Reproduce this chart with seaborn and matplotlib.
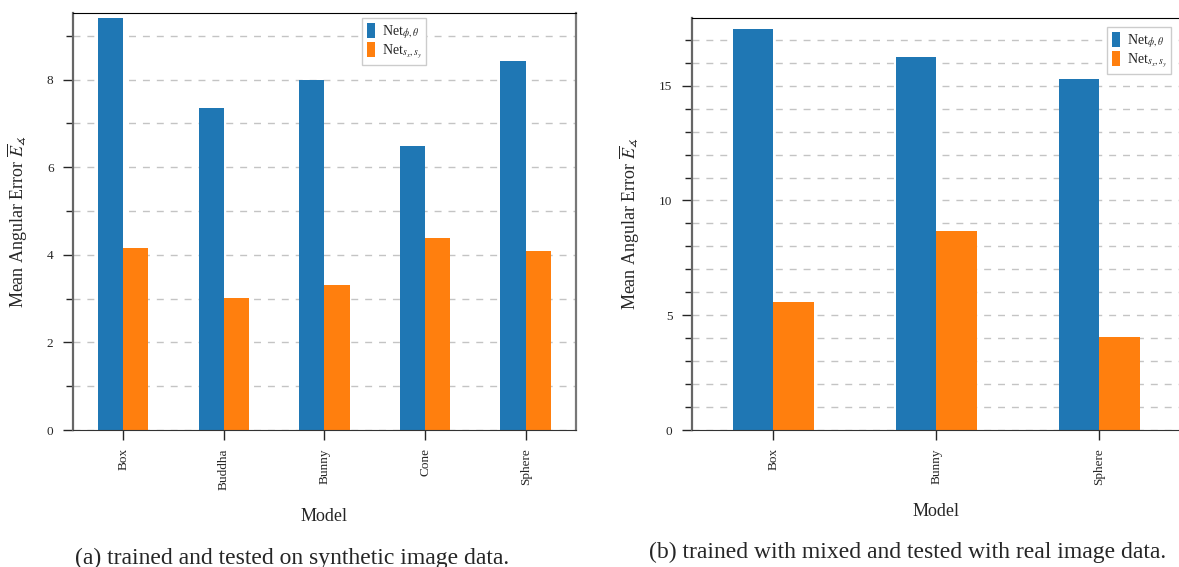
import pandas as pd
import seaborn as sns
import matplotlib.pyplot as plt
from matplotlib.ticker import MultipleLocator

# (a) synthetic image data
models_a = ["Box", "Buddha", "Bunny", "Cone", "Sphere"]
net_phi_a = [9.41, 7.35, 7.99, 6.48, 8.42]
net_s_a = [4.15, 3.01, 3.31, 4.38, 4.09]

# (b) mixed training, real test data
models_b = ["Box", "Bunny", "Sphere"]
net_phi_b = [17.47, 16.24, 15.28]
net_s_b = [5.59, 8.69, 4.06]

series_names = [r"Net$_{\phi,\theta}$", r"Net$_{s_x,s_y}$"]
colors = ["#1f77b4", "#ff7f0e"]

sns.set_style("ticks")
plt.rcParams["font.family"] = ["Liberation Serif", "DejaVu Serif"]
plt.rcParams["mathtext.fontset"] = "stix"


def long_table(models, phi, s):
    df = pd.DataFrame({"Model": models, series_names[0]: phi, series_names[1]: s})
    return df.melt(id_vars="Model", var_name="net", value_name="err")


def draw_panel(ax, df, ymax, major, minor, leg_anchor, ylab_x, xlab_y):
    sns.barplot(data=df, x="Model", y="err", hue="net", palette=colors,
                width=0.5, saturation=1, linewidth=0, ax=ax, zorder=2)
    ax.set_ylim(0, ymax)
    ax.yaxis.set_major_locator(MultipleLocator(major))
    ax.yaxis.set_minor_locator(MultipleLocator(minor))
    ax.grid(axis="y", which="both", linestyle=(0, (5, 5)), color="#c4c4c4", linewidth=1)
    ax.set_axisbelow(True)
    ax.tick_params(axis="both", which="major", length=7, width=1, labelsize=9.5, direction="out")
    ax.tick_params(axis="y", which="both", pad=7)
    ax.tick_params(axis="x", which="major", pad=6, labelrotation=90)
    ax.tick_params(axis="y", which="minor", length=5, width=1, direction="out")
    ax.set_ylabel(r"Mean Angular Error $\overline{E}_{\measuredangle}$", fontsize=13)
    ax.set_xlabel("Model", fontsize=13)
    ax.yaxis.set_label_coords(ylab_x, 0.5)
    ax.xaxis.set_label_coords(0.5, xlab_y)
    ax.spines["left"].set_color("#666666")
    ax.spines["left"].set_linewidth(1.6)
    ax.spines["right"].set_color("#777777")
    ax.spines["right"].set_linewidth(1.6)
    ax.spines["top"].set_color("black")
    ax.spines["bottom"].set_color("#333333")
    ax.legend(title=None, loc="upper left", bbox_to_anchor=leg_anchor, borderaxespad=0,
              fontsize=10, handlelength=0.55, handleheight=1.25, labelspacing=0.1,
              borderpad=0.35, handletextpad=0.5, fancybox=False, edgecolor="#cccccc",
              framealpha=1)


fig = plt.figure(figsize=(11.79, 5.67), dpi=100)
ax1 = fig.add_axes([0.0619, 0.2416, 0.4266, 0.7354])
ax2 = fig.add_axes([0.5869, 0.2416, 0.4148, 0.7266])

draw_panel(ax1, long_table(models_a, net_phi_a, net_s_a), 9.52, 2, 1,
           (0.575, 0.988), -0.085, -0.187)
draw_panel(ax2, long_table(models_b, net_phi_b, net_s_b), 17.95, 5, 1,
           (0.849, 0.978), -0.102, -0.177)

fig.text(0.2477, 0.016, "(a) trained and tested on synthetic image data.",
         ha="center", va="center", fontsize=17)
fig.text(0.77, 0.025, "(b) trained with mixed and tested with real image data.",
         ha="center", va="center", fontsize=17)

fig.savefig("out.png", dpi=100)
